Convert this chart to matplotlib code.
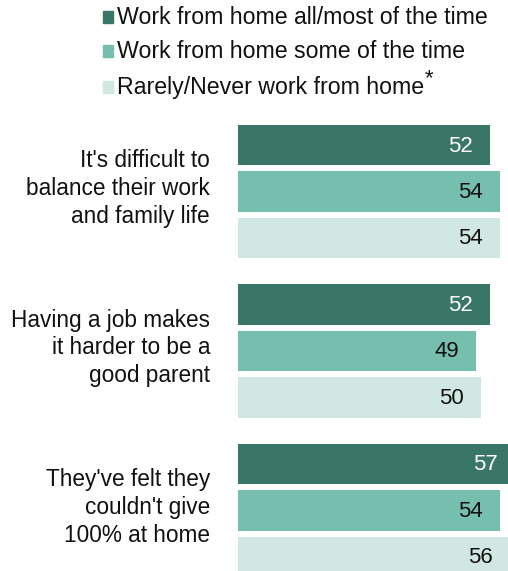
import numpy as np
import matplotlib.pyplot as plt
from matplotlib.patches import Rectangle

plt.rcParams['font.family'] = ['Liberation Sans', 'DejaVu Sans']

# survey items and shares (%) per telework group
items = ["It's difficult to\nbalance their work\nand family life",
         "Having a job makes\nit harder to be a\ngood parent",
         "They've felt they\ncouldn't give\n100% at home"]
groups = ['Work from home all/most of the time',
          'Work from home some of the time',
          'Rarely/Never work from home']
all_most = [52, 52, 57]
some = [54, 49, 54]
rarely = [54, 50, 56]

values = np.array([all_most, some, rarely])
colors = ['#3a7668', '#76bfae', '#d1e8e2']
txt_colors = ['white', '#111111', '#111111']

W, H = 508, 571
fig = plt.figure(figsize=(W / 100, H / 100), dpi=100)

# axes spans the bar region, clipped on the right and bottom like the panel
x0 = 238 / W
ax = fig.add_axes([x0, 0, 1 - x0, 1])
ax.set_xlim(0, (W - 238) / 4.85)
pitch = 46.5
ax.set_ylim((H - 145) / pitch, -145 / pitch)
ax.axis('off')

group_gap = 3.43
bar_h = 0.87
for g in range(len(items)):
    for i in range(len(groups)):
        y = g * group_gap + i
        v = values[i, g]
        ax.barh(y, v, height=bar_h, color=colors[i], edgecolor='none')
        ax.annotate(f'{v}', xy=(v, y), xytext=(-17, -1),
                    textcoords='offset pixels', ha='right', va='center',
                    fontsize=16, color=txt_colors[i], annotation_clip=False,
                    clip_on=False)
    yc = g * group_gap + 1
    ax.annotate(items[g], xy=(0, yc), xytext=(-28, 3),
                textcoords='offset pixels', ha='right', va='center',
                fontsize=16.3, linespacing=1.27, color='#111111',
                annotation_clip=False)

# legend
leg_y = [17, 51, 87]
for i, lab in enumerate(groups):
    fig.patches.append(Rectangle((103 / W, 1 - (leg_y[i] + 6) / H),
                                 10 / W, 12 / H, color=colors[i],
                                 transform=fig.transFigure, figure=fig))
    t = fig.text(117 / W, 1 - (leg_y[i] + 1) / H, lab, fontsize=16.7,
                 va='center', ha='left', color='#111111')
fig.canvas.draw()
bb = t.get_window_extent()
fig.text(bb.x1 / W + 0.002, 1 - (leg_y[2] - 8) / H, '*', fontsize=16,
         va='center', ha='left', color='#111111')

fig.savefig('out.png', dpi=100)
